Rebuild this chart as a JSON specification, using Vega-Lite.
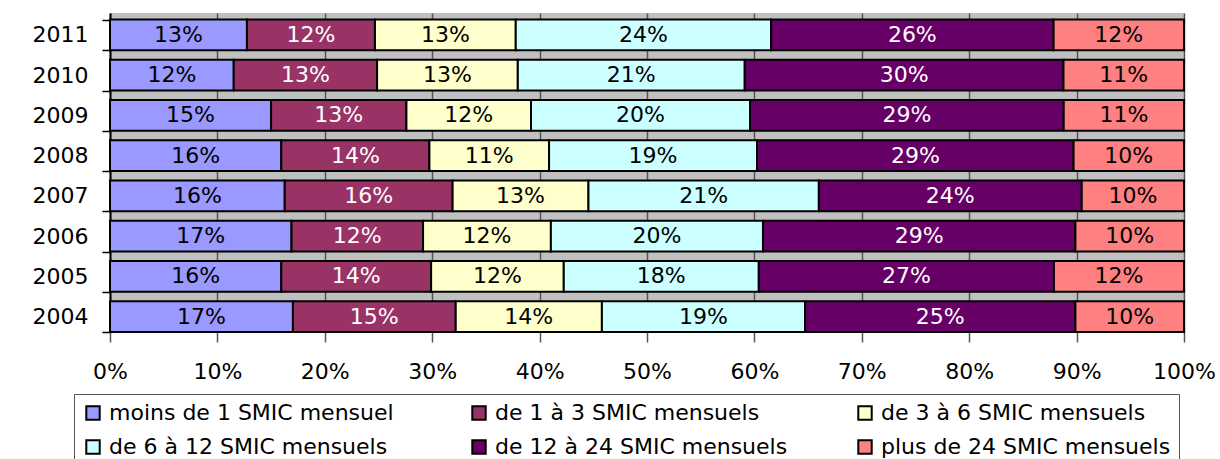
{
  "$schema": "https://vega.github.io/schema/vega-lite/v6.json",
  "width": 1074,
  "height": 319,
  "autosize": {"type": "none"},
  "padding": {"left": 110, "top": 13, "right": 36, "bottom": 127},
  "background": "white",
  "data": {
    "values": [
      {"annee": "2011", "ordre": 1, "tranche": "moins de 1 SMIC mensuel", "part": 0.1275},
      {"annee": "2011", "ordre": 2, "tranche": "de 1 à 3 SMIC mensuels", "part": 0.1192},
      {"annee": "2011", "ordre": 3, "tranche": "de 3 à 6 SMIC mensuels", "part": 0.1311},
      {"annee": "2011", "ordre": 4, "tranche": "de 6 à 12 SMIC mensuels", "part": 0.2377},
      {"annee": "2011", "ordre": 5, "tranche": "de 12 à 24 SMIC mensuels", "part": 0.2631},
      {"annee": "2011", "ordre": 6, "tranche": "plus de 24 SMIC mensuels", "part": 0.1214},
      {"annee": "2010", "ordre": 1, "tranche": "moins de 1 SMIC mensuel", "part": 0.1152},
      {"annee": "2010", "ordre": 2, "tranche": "de 1 à 3 SMIC mensuels", "part": 0.1335},
      {"annee": "2010", "ordre": 3, "tranche": "de 3 à 6 SMIC mensuels", "part": 0.1310},
      {"annee": "2010", "ordre": 4, "tranche": "de 6 à 12 SMIC mensuels", "part": 0.2113},
      {"annee": "2010", "ordre": 5, "tranche": "de 12 à 24 SMIC mensuels", "part": 0.2968},
      {"annee": "2010", "ordre": 6, "tranche": "plus de 24 SMIC mensuels", "part": 0.1122},
      {"annee": "2009", "ordre": 1, "tranche": "moins de 1 SMIC mensuel", "part": 0.1500},
      {"annee": "2009", "ordre": 2, "tranche": "de 1 à 3 SMIC mensuels", "part": 0.1260},
      {"annee": "2009", "ordre": 3, "tranche": "de 3 à 6 SMIC mensuels", "part": 0.1160},
      {"annee": "2009", "ordre": 4, "tranche": "de 6 à 12 SMIC mensuels", "part": 0.2040},
      {"annee": "2009", "ordre": 5, "tranche": "de 12 à 24 SMIC mensuels", "part": 0.2920},
      {"annee": "2009", "ordre": 6, "tranche": "plus de 24 SMIC mensuels", "part": 0.1120},
      {"annee": "2008", "ordre": 1, "tranche": "moins de 1 SMIC mensuel", "part": 0.1595},
      {"annee": "2008", "ordre": 2, "tranche": "de 1 à 3 SMIC mensuels", "part": 0.1379},
      {"annee": "2008", "ordre": 3, "tranche": "de 3 à 6 SMIC mensuels", "part": 0.1114},
      {"annee": "2008", "ordre": 4, "tranche": "de 6 à 12 SMIC mensuels", "part": 0.1937},
      {"annee": "2008", "ordre": 5, "tranche": "de 12 à 24 SMIC mensuels", "part": 0.2947},
      {"annee": "2008", "ordre": 6, "tranche": "plus de 24 SMIC mensuels", "part": 0.1028},
      {"annee": "2007", "ordre": 1, "tranche": "moins de 1 SMIC mensuel", "part": 0.1627},
      {"annee": "2007", "ordre": 2, "tranche": "de 1 à 3 SMIC mensuels", "part": 0.1563},
      {"annee": "2007", "ordre": 3, "tranche": "de 3 à 6 SMIC mensuels", "part": 0.1265},
      {"annee": "2007", "ordre": 4, "tranche": "de 6 à 12 SMIC mensuels", "part": 0.2145},
      {"annee": "2007", "ordre": 5, "tranche": "de 12 à 24 SMIC mensuels", "part": 0.2448},
      {"annee": "2007", "ordre": 6, "tranche": "plus de 24 SMIC mensuels", "part": 0.0952},
      {"annee": "2006", "ordre": 1, "tranche": "moins de 1 SMIC mensuel", "part": 0.1690},
      {"annee": "2006", "ordre": 2, "tranche": "de 1 à 3 SMIC mensuels", "part": 0.1225},
      {"annee": "2006", "ordre": 3, "tranche": "de 3 à 6 SMIC mensuels", "part": 0.1190},
      {"annee": "2006", "ordre": 4, "tranche": "de 6 à 12 SMIC mensuels", "part": 0.1975},
      {"annee": "2006", "ordre": 5, "tranche": "de 12 à 24 SMIC mensuels", "part": 0.2909},
      {"annee": "2006", "ordre": 6, "tranche": "plus de 24 SMIC mensuels", "part": 0.1011},
      {"annee": "2005", "ordre": 1, "tranche": "moins de 1 SMIC mensuel", "part": 0.1595},
      {"annee": "2005", "ordre": 2, "tranche": "de 1 à 3 SMIC mensuels", "part": 0.1395},
      {"annee": "2005", "ordre": 3, "tranche": "de 3 à 6 SMIC mensuels", "part": 0.1235},
      {"annee": "2005", "ordre": 4, "tranche": "de 6 à 12 SMIC mensuels", "part": 0.1816},
      {"annee": "2005", "ordre": 5, "tranche": "de 12 à 24 SMIC mensuels", "part": 0.2748},
      {"annee": "2005", "ordre": 6, "tranche": "plus de 24 SMIC mensuels", "part": 0.1211},
      {"annee": "2004", "ordre": 1, "tranche": "moins de 1 SMIC mensuel", "part": 0.1703},
      {"annee": "2004", "ordre": 2, "tranche": "de 1 à 3 SMIC mensuels", "part": 0.1516},
      {"annee": "2004", "ordre": 3, "tranche": "de 3 à 6 SMIC mensuels", "part": 0.1361},
      {"annee": "2004", "ordre": 4, "tranche": "de 6 à 12 SMIC mensuels", "part": 0.1892},
      {"annee": "2004", "ordre": 5, "tranche": "de 12 à 24 SMIC mensuels", "part": 0.2517},
      {"annee": "2004", "ordre": 6, "tranche": "plus de 24 SMIC mensuels", "part": 0.1011}
    ]
  },
  "transform": [
    {"stack": "part", "groupby": ["annee"], "sort": [{"field": "ordre"}], "as": ["debut", "fin"]},
    {"calculate": "(datum.debut + datum.fin) / 2", "as": "milieu"}
  ],
  "encoding": {
    "y": {
      "field": "annee",
      "type": "ordinal",
      "sort": ["2011", "2010", "2009", "2008", "2007", "2006", "2005", "2004"],
      "scale": {"paddingInner": 0.237, "paddingOuter": 0.082, "align": 1},
      "axis": {
        "title": null,
        "tickBand": "extent",
        "tickSize": 8,
        "tickColor": "black",
        "tickWidth": 1.5,
        "domainColor": "black",
        "domainWidth": 2,
        "labelFont": "DejaVu Sans",
        "labelFontSize": 22,
        "labelColor": "black",
        "labelPadding": 14,
        "grid": false
      }
    }
  },
  "layer": [
    {
      "mark": {"type": "bar", "stroke": "black", "strokeWidth": 2},
      "encoding": {
        "x": {
          "field": "debut",
          "type": "quantitative",
          "scale": {"domain": [0, 1], "nice": false},
          "axis": {
            "title": null,
            "values": [0, 0.1, 0.2, 0.3, 0.4, 0.5, 0.6, 0.7, 0.8, 0.9, 1],
            "format": ".0%",
            "labelFont": "DejaVu Sans",
            "labelFontSize": 22,
            "labelColor": "black",
            "labelFlush": false,
            "labelPadding": 19,
            "tickSize": 10,
            "tickColor": "#555555",
            "tickWidth": 1.5,
            "domain": false,
            "grid": true,
            "gridColor": "#555555",
            "gridWidth": 1.5
          }
        },
        "x2": {"field": "fin"},
        "color": {
          "field": "tranche",
          "type": "nominal",
          "scale": {
            "domain": [
              "moins de 1 SMIC mensuel",
              "de 1 à 3 SMIC mensuels",
              "de 3 à 6 SMIC mensuels",
              "de 6 à 12 SMIC mensuels",
              "de 12 à 24 SMIC mensuels",
              "plus de 24 SMIC mensuels"
            ],
            "range": ["#9999FF", "#993366", "#FFFFCC", "#CCFFFF", "#660066", "#FF8080"]
          },
          "legend": {
            "title": null,
            "orient": "none",
            "legendX": -36,
            "legendY": 381,
            "direction": "horizontal",
            "columns": 3,
            "gridAlign": "all",
            "columnPadding": 66,
            "rowPadding": 12,
            "padding": 8,
            "strokeColor": "#555555",
            "fillColor": "white",
            "symbolType": "square",
            "symbolSize": 180,
            "symbolStrokeColor": "black",
            "symbolStrokeWidth": 2,
            "symbolOpacity": 1,
            "labelFont": "DejaVu Sans",
            "labelFontSize": 22,
            "labelColor": "black",
            "labelOffset": 5,
            "labelLimit": 0
          }
        }
      }
    },
    {
      "mark": {"type": "text", "font": "DejaVu Sans", "fontSize": 22, "baseline": "middle", "align": "center"},
      "encoding": {
        "x": {"field": "milieu", "type": "quantitative"},
        "text": {"field": "part", "type": "quantitative", "format": ".0%"},
        "color": {
          "condition": {"test": "datum.ordre == 2 || datum.ordre == 5", "value": "white"},
          "value": "black"
        }
      }
    }
  ],
  "config": {
    "view": {"fill": "#C0C0C0", "stroke": null}
  }
}
